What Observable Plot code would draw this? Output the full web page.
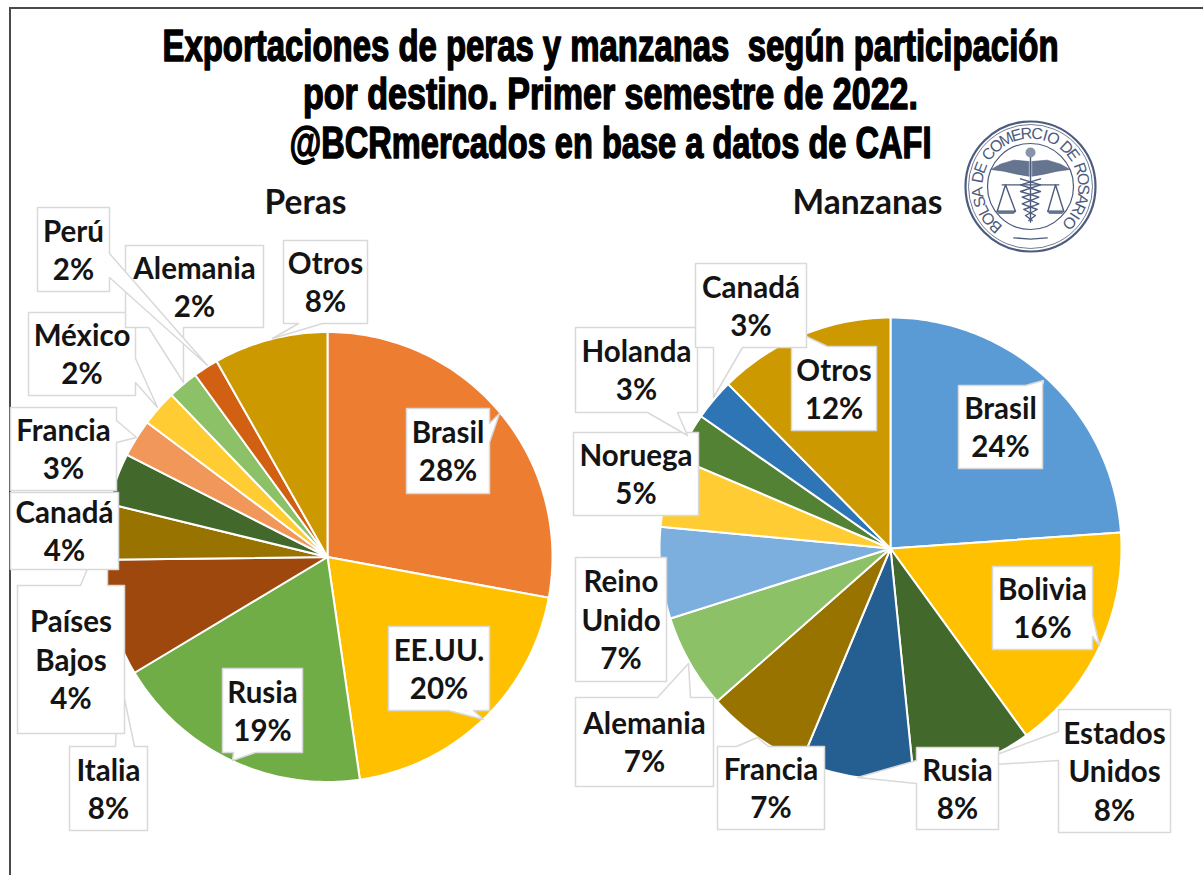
<!DOCTYPE html>
<html lang="es">
<head>
<meta charset="utf-8">
<title>Exportaciones de peras y manzanas</title>
<script src="https://cdn.jsdelivr.net/npm/d3@7"></script>
<script src="https://cdn.jsdelivr.net/npm/@observablehq/plot@0.6"></script>
<style>html,body{margin:0;padding:0;background:#fff}svg{display:block}</style>
</head>
<body>
<div id="chart"></div>
<script>
// ---- data ----
const titleLines = ["Exportaciones de peras y manzanas  según participación", "por destino. Primer semestre de 2022.", "@BCRmercados en base a datos de CAFI"];
const perasNames = ["Brasil", "EE.UU.", "Rusia", "Italia", "Países\nBajos", "Canadá", "Francia", "México", "Alemania", "Perú", "Otros"];
const perasShares = [27.9, 19.8, 18.7, 8.4, 4.0, 3.7, 2.7, 2.6, 2.2, 1.8, 8.2];
const perasPct = [28, 20, 19, 8, 4, 4, 3, 2, 2, 2, 8];
const perasColors = ["#ED7D31", "#FFC000", "#70AD47", "#9E480E", "#997300", "#43682B", "#F1975A", "#FFCD33", "#8CC168", "#D26012", "#CC9900"];

const manzanasNames = ["Brasil", "Bolivia", "Estados\nUnidos", "Rusia", "Francia", "Alemania", "Reino\nUnido", "Noruega", "Holanda", "Canadá", "Otros"];
const manzanasShares = [23.9, 16.1, 8.4, 7.9, 7.2, 6.6, 6.4, 4.9, 3.3, 2.9, 12.4];
const manzanasPct = [24, 16, 8, 8, 7, 7, 7, 5, 3, 3, 12];
const manzanasColors = ["#5B9BD5", "#FFC000", "#43682B", "#255E91", "#997300", "#8CC168", "#7CAFDD", "#FFCD33", "#548235", "#2E75B6", "#CC9900"];

// ---- layout (pixel space; x and y scales are identity) ----
const W = 1203, H = 875;
const pies = [
  {id: "P", cx: 327, cy: 556.5, r: 225, names: perasNames, shares: perasShares, pct: perasPct, colors: perasColors},
  {id: "M", cx: 890, cy: 548, r: 231, names: manzanasNames, shares: manzanasShares, pct: manzanasPct, colors: manzanasColors}
];
// callout: [pie, slice, x1, y1, x2, y2, side(0 top,1 right,2 bottom,3 left), base a, tipX, tipY, base b] in paint order
const callouts = [
  ["P", 10, 283, 240, 367, 323, 2, 322, 272, 338, 298],
  ["P", 0, 406, 408, 489, 493, 1, 423, 499, 413, 442],
  ["P", 1, 388, 626, 489, 710, 2, 473, 483, 719, 448],
  ["P", 2, 222, 668, 302, 752, 2, 255, 232, 760, 233],
  ["P", 3, 69, 746, 147, 830, 0, 115, 118, 670, 134],
  ["P", 4, 17, 585, 124, 733, 0, 80, 107, 520, 107],
  ["P", 5, 10, 492, 118, 569, null],
  ["P", 6, 10, 407, 116, 490, 1, 420, 136, 437, 442],
  ["P", 7, 28, 312, 135, 395, 1, 358, 157, 407, 382],
  ["P", 8, 125, 245, 263, 327, 2, 183, 183, 382, 148],
  ["P", 9, 37, 207, 109, 291, 1, 253, 207, 365, 277],
  ["M", 10, 791, 346, 876, 430, 0, 791, 806, 336, 827],
  ["M", 0, 958, 385, 1042, 468, 0, 1025, 1043, 380, 1042],
  ["M", 1, 992, 566, 1092, 649, 1, 615, 1099, 645, 636],
  ["M", 2, 1058, 709, 1170, 832, 3, 760, 964, 766, 731],
  ["M", 3, 916, 747, 998, 829, 3, 783, 857, 777, 760],
  ["M", 4, 717, 746, 824, 829, 0, 736, 757, 737, 768],
  ["M", 5, 575, 697, 713, 786, 0, 657, 688, 663, 690],
  ["M", 6, 575, 557, 666, 681, null],
  ["M", 7, 573, 432, 698, 515, null],
  ["M", 8, 575, 327, 697, 412, 2, 677, 687, 435, 647],
  ["M", 9, 695, 263, 806, 347, 2, 742, 713, 397, 713]
];

// ---- derive the drawn tables ----
const wedges = [];
for (const p of pies) {
  const arcs = d3.pie().sort(null)(p.shares);
  arcs.forEach((a, i) => {
    const key = p.id + i;
    wedges.push({key, x: p.cx, y: p.cy});
    const n = Math.max(2, Math.ceil((a.endAngle - a.startAngle) / 0.02));
    for (let k = 0; k <= n; ++k) {
      const t = a.startAngle + (a.endAngle - a.startAngle) * k / n;
      wedges.push({key, x: p.cx + p.r * Math.sin(t), y: p.cy - p.r * Math.cos(t)});
    }
  });
}
const colorDomain = pies.flatMap(p => p.colors.map((_, i) => p.id + i));
const colorRange = pies.flatMap(p => p.colors);

const boxPts = [], labelRows = [];
callouts.forEach(([pid, i, x1, y1, x2, y2, side, a, tx, ty, b], n) => {
  const p = pies.find(q => q.id === pid);
  const pts = [];
  const tipAt = s => {
    if (side !== s) return;
    if (s === 0) pts.push([a, y1], [tx, ty], [b, y1]);
    if (s === 1) pts.push([x2, a], [tx, ty], [x2, b]);
    if (s === 2) pts.push([a, y2], [tx, ty], [b, y2]);
    if (s === 3) pts.push([x1, a], [tx, ty], [x1, b]);
  };
  pts.push([x1, y1]); tipAt(0);
  pts.push([x2, y1]); tipAt(1);
  pts.push([x2, y2]); tipAt(2);
  pts.push([x1, y2]); tipAt(3);
  pts.forEach(([x, y]) => boxPts.push({k: n, x, y}));
  labelRows.push({x: (x1 + x2) / 2, y: (y1 + y2) / 2 - 1, text: `${p.names[i]}\n${p.pct[i]}%`});
});

// ---- Logo (decorative seal) ----
const LX = 1030, LY = 186, ink = "#4d5b7c";
const sealText = "BOLSA DE COMERCIO DE ROSARIO";
const sealAdvance = {" ": 0.55, I: 0.6, L: 0.85, M: 1.25, O: 1.15, C: 1.1, R: 1.05};
const sealWeights = Array.from(sealText, c => sealAdvance[c] ?? 1);
const sealTotal = d3.sum(sealWeights.slice(1));
let sealRun = 0;
const sealLetters = Array.from(sealText, (c, i) => {
  if (i > 0) sealRun += (sealWeights[i - 1] + sealWeights[i]) / 2;
  const deg = 221 + sealRun * 273 / sealTotal, t = deg * Math.PI / 180;
  return {c, x: LX + 53 * Math.sin(t), y: LY - 53 * Math.cos(t), rot: deg};
});
const rel = (k, list) => list.map(([x, y]) => ({k, x: LX + (x - 210) / 3, y: LY + (y - 183) / 3}));
const logoFills = [
  ...rel("wl", [[205,108],[160,104],[120,116],[92,132],[130,137],[170,146],[205,152]]),
  ...rel("wr", [[215,108],[260,104],[300,116],[328,132],[290,137],[250,146],[215,152]]),
  ...rel("pl", [[110,256],[165,256],[160,264],[115,264]]),
  ...rel("pr", [[262,256],[310,256],[305,264],[267,264]])
];
const logoStrokes = [
  ...rel("bar", [[125,178],[295,178]]),
  ...rel("staff", [[210,95],[210,290]]),
  ...rel("l1", [[110,258],[135,178],[165,258]]),
  ...rel("l2", [[262,258],[285,178],[310,258]]),
  ...rel("s1", [[240,160],[180,178],[240,198],[185,215],[235,235],[190,252],[225,270],[205,285]]),
  ...rel("s2", [[180,160],[240,178],[180,198],[235,215],[185,235],[230,252],[195,270],[215,285]]),
  ...rel("foot", [[160,337],[210,341],[260,337]])
];

const labelFont = "Lato, 'Noto Sans', sans-serif";
const chart = Plot.plot({
  width: W, height: H, margin: 0,
  x: {domain: [0, W], range: [0, W], axis: null},
  y: {domain: [0, H], range: [0, H], axis: null},
  r: {type: "identity"},
  color: {type: "ordinal", domain: colorDomain, range: colorRange},
  style: {background: "#fff"},
  marks: [
    Plot.ruleX([9.5], {y1: 7, y2: H, stroke: "#4a4a4a", strokeWidth: 2}),
    Plot.ruleY([7.5], {x1: 9, x2: W, stroke: "#4a4a4a", strokeWidth: 2}),
    Plot.line(wedges, {x: "x", y: "y", z: "key", fill: "key", stroke: "#fff", strokeWidth: 2, curve: "linear-closed"}),
    Plot.line(boxPts, {x: "x", y: "y", z: "k", fill: "#fff", stroke: "#d9d9d9", strokeWidth: 1.5, curve: "linear-closed"}),
    Plot.text(labelRows, {x: "x", y: "y", text: "text", fontSize: 29.5, lineHeight: 1.3, fontWeight: 700, fontFamily: labelFont, fill: "#141414"}),
    Plot.text(titleLines, {x: () => 610, y: (d, i) => [46, 94, 143][i], text: d => d, fontSize: 45, fontWeight: 700, fontFamily: "'Liberation Sans', sans-serif", fill: "#000", stroke: "#000", strokeWidth: 1.5}),
    Plot.text(["Peras", "Manzanas"], {x: (d, i) => [305, 867][i], y: () => 203, text: d => d, fontSize: 33.5, fontWeight: 700, fontFamily: labelFont, fill: "#141414"}),
    Plot.dot([65, 62, 43], {x: () => LX, y: () => LY, r: d => d, fill: "none", stroke: ink, strokeWidth: (d, i) => [2.2, 0.8, 1.2][i]}),
    Plot.text(sealLetters, {x: "x", y: "y", text: "c", rotate: "rot", fontSize: 16, fontWeight: 400, fontFamily: "'Liberation Sans', sans-serif", fill: ink}),
    Plot.line(logoFills, {x: "x", y: "y", z: "k", fill: "#66758f", stroke: ink, strokeWidth: 0.6, curve: "linear-closed"}),
    Plot.line(logoStrokes, {x: "x", y: "y", z: "k", stroke: ink, strokeWidth: 1.4}),
    Plot.dot([5], {x: () => LX, y: () => LY - 34, r: d => d, fill: "#8894ab"})
  ]
});
document.getElementById("chart").append(chart);
// Condense the title lines to the reference's narrow bold face
const titleWidths = [896, 615, 642];
chart.querySelectorAll("text").forEach(t => {
  const i = titleLines.indexOf(t.textContent);
  if (i < 0) return;
  t.setAttribute("textLength", titleWidths[i]);
  t.setAttribute("lengthAdjust", "spacingAndGlyphs");
});
</script>
</body>
</html>
